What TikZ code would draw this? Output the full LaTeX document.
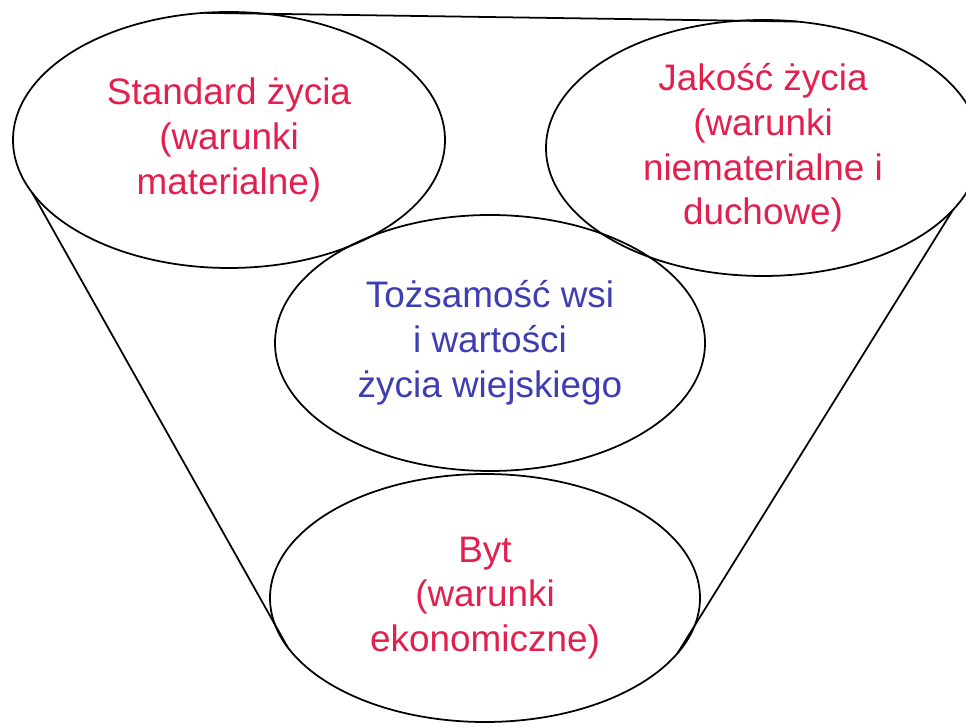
\documentclass[tikz,border=0pt]{standalone}
\usepackage{fontspec}
\setmainfont{Liberation Sans}
\usetikzlibrary{shapes.geometric}
\definecolor{lifered}{RGB}{226,32,78}
\definecolor{villageblue}{RGB}{62,62,178}
\tikzset{
  sphere/.style={draw, ellipse, line width=1pt, inner sep=0pt, outer sep=0pt, align=center,
    font=\fontsize{21}{25.5}\selectfont},
  funnel/.style={line width=1pt}
}
\begin{document}
\begin{tikzpicture}
\useasboundingbox (0,0) rectangle (19.32,14.52);
% Spheres
\node[sphere, text=lifered, minimum width=8.64cm, minimum height=5.12cm] (standard) at (4.58,11.72) {Standard życia\\(warunki\\materialne)};
\node[sphere, text=lifered, minimum width=8.68cm, minimum height=5.12cm] (jakosc) at (15.26,11.56) {Jakość życia\\(warunki\\niematerialne i\\duchowe)};
\node[sphere, text=villageblue, minimum width=8.6cm, minimum height=5.12cm] (tozsamosc) at (9.80,7.66) {Tożsamość wsi\\i wartości\\życia wiejskiego};
\node[sphere, text=lifered, minimum width=8.6cm, minimum height=4.96cm] (byt) at (9.70,2.56) {Byt\\(warunki\\ekonomiczne)};

% Funnel
\draw[funnel] (standard.101.6) -- (jakosc.75);
\draw[funnel] (standard.195) -- (byt.194.6);
\draw[funnel] (jakosc.342) -- (byt.344.6);

\end{tikzpicture}
\end{document}
